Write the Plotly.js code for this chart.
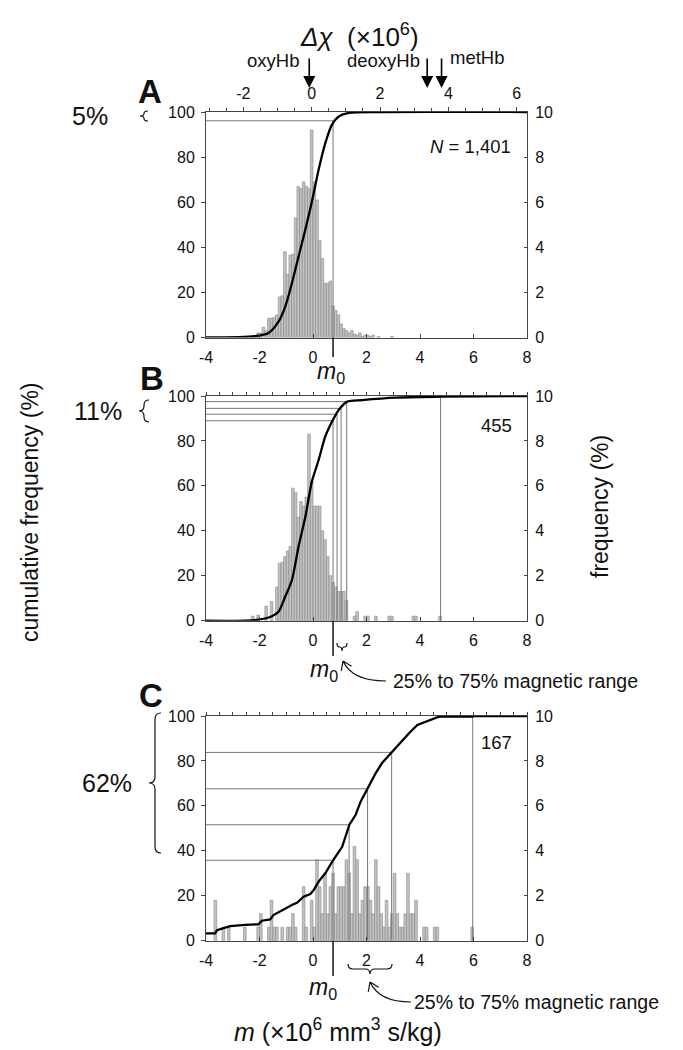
<!DOCTYPE html>
<html><head><meta charset="utf-8">
<script src="https://cdn.plot.ly/plotly-3.0.1.min.js"></script>
<style>html,body{margin:0;padding:0;background:#fff}#chart{width:683px;height:1050px}</style>
</head><body><div id="chart"></div>
<script>
// ---------------- data ----------------
const xTickVals = [-4, -2, 0, 2, 4, 6, 8];
const xTickText = ['-4', '-2', '0', '2', '4', '6', '8'];
const chiTickVals = [-2, 0, 2, 4, 6];
const chiTickText = ['-2', '0', '2', '4', '6'];
const cumTicks = [0, 20, 40, 60, 80, 100];
const freqTicks = [0, 2, 4, 6, 8, 10];

// Panel A (N = 1,401): histogram, bin width 0.1
const binA = [-2.25,-2.15,-2.05,-1.95,-1.85,-1.75,-1.65,-1.55,-1.45,-1.35,-1.25,-1.15,-1.05,-0.95,-0.85,-0.75,-0.65,-0.55,-0.45,-0.35,-0.25,-0.15,-0.05,0.05,0.15,0.25,0.35,0.45,0.55,0.65,0.75,0.85,0.95,1.05,1.15,1.25,1.35,1.45,1.55,1.65,1.75,1.85,1.95,2.05,2.15,2.25,2.45,2.95];
const freqA = [0.05,0.1,0.2,0.2,0.45,0.3,0.85,0.85,0.9,1.0,1.8,1.85,3.8,2.8,3.65,3.7,5.3,6.7,6.6,6.9,6.7,6.6,9.2,6.9,6.1,4.3,3.5,2.4,2.4,2.5,1.4,1.2,1.0,0.6,0.4,0.3,0.2,0.3,0.15,0.1,0.2,0.05,0.1,0.1,0.05,0.1,0.05,0.05];
const cumMA = [-4,-2.16,-1.66,-1.29,-1.04,-0.79,-0.54,-0.29,-0.04,0.21,0.46,0.71,0.96,1.34,2.46,8];
const cumA = [0,0.6,2,7,13.6,24,35.9,47.7,60.3,74.4,86.2,94.4,98,99.6,100,100];
const levelsA = [96.1];
const guideMA = [0.75];

// Panel B (455)
const binB = [-2.25,-2.05,-1.75,-1.55,-1.35,-1.25,-1.15,-1.05,-0.95,-0.85,-0.75,-0.65,-0.55,-0.45,-0.35,-0.25,-0.15,-0.05,0.05,0.15,0.25,0.35,0.45,0.55,0.65,0.75,0.85,0.95,1.05,1.15,1.25,1.55,1.65,1.95,2.05,2.35,2.85,2.95,3.75,3.85,4.75];
const freqB = [0.2,0.25,0.65,0.85,1.5,2.55,2.6,2.85,3.1,3.3,5.9,5.7,4.6,5.3,5.1,5.5,8.3,6.2,5.1,5.1,5.1,4.0,3.6,2.85,2.0,1.7,1.5,1.3,1.3,1.3,0.9,0.2,0.4,0.2,0.2,0.2,0.2,0.2,0.2,0.2,0.2];
const cumMB = [-4,-2.16,-1.54,-1.29,-1.04,-0.79,-0.54,-0.29,-0.04,0.21,0.46,0.71,0.96,1.28,1.84,3.09,4.8,8];
const cumB = [0,0.3,2,4,10.7,18,33,46,62,71.5,82,88.5,93.8,97.5,98.2,99.3,99.7,100];
const levelsB = [89.0, 91.9, 94.5, 97.5];
const guideMB = [0.75, 0.9, 1.05, 1.26];
const maxMB = 4.77;

// Panel C (167)
const binC = [-3.65,-3.35,-3.15,-2.55,-2.05,-1.95,-1.65,-1.55,-1.45,-1.35,-1.15,-0.95,-0.85,-0.75,-0.65,-0.35,-0.25,-0.05,0.05,0.15,0.25,0.35,0.45,0.55,0.65,0.75,0.85,0.95,1.05,1.15,1.25,1.35,1.45,1.55,1.65,1.75,1.85,1.95,2.05,2.15,2.25,2.35,2.45,2.55,2.65,2.75,2.85,2.95,3.05,3.15,3.25,3.35,3.45,3.55,3.65,3.75,3.85,4.15,4.25,4.55,4.65,5.95];
const freqC = [1.8,0.6,0.6,0.6,0.6,1.2,0.6,1.8,0.6,0.6,0.6,0.6,0.6,1.2,0.6,2.4,0.6,1.8,0.6,3.6,2.4,1.2,3.0,1.2,2.4,3.0,1.2,2.4,2.4,2.4,3.6,3.0,1.2,4.2,3.6,1.2,1.8,2.4,2.4,1.8,1.2,3.6,2.4,1.2,0.6,1.8,0.6,1.2,3.0,1.2,0.6,0.6,1.2,3.0,1.2,1.2,1.8,0.6,0.6,0.6,0.6,0.6];
const cumMC = [-4,-3.66,-3.59,-3.35,-3.1,-2.54,-2.04,-1.91,-1.6,-1.48,-1.16,-0.79,-0.6,-0.35,-0.1,0.03,0.21,0.46,0.75,1.09,1.36,1.59,1.78,2.04,2.34,2.59,2.94,3.21,3.59,3.9,4.21,4.71,5.96,6.0,8];
const cumC = [3.3,3.3,4.7,5.5,6.5,7,7.3,8.9,9.5,11.4,13.6,15.9,16.9,19.6,20.8,22.6,26.3,30,35.8,41.8,51.6,55.9,61.9,67.6,74.5,79.2,83.8,87.8,92.3,96,97.5,99.7,99.7,100,100];
const levelsC = [35.8, 51.6, 67.6, 83.8];
const guideMC = [0.75, 1.35, 2.04, 2.94];
const maxMC = 5.97;

const m0 = 0.75;
const hbNames = ['oxyHb', 'deoxyHb', 'metHb'];
const hbChi = [-0.07, 3.38, 3.8];

// ---------------- helpers ----------------
const W = 683, H = 1050;
const X = px => px / W;
const Y = py => 1 - py / H;
const FONT = 'Liberation Sans, Arial, Helvetica, sans-serif';
const TXT = '#111';

function bars(x, y, xa, ya) {
  return {type:'bar', x:x, y:y, xaxis:xa, yaxis:ya, width:0.1,
    marker:{color:'#c2c2c2', line:{color:'#888', width:0.6}},
    hoverinfo:'skip', showlegend:false};
}
function curve(x, y, xa, ya, smooth) {
  return {type:'scatter', mode:'lines', x:x, y:y, xaxis:xa, yaxis:ya,
    line:{color:'#000', width:2.3, shape: smooth ? 'spline' : 'linear', smoothing:0.8},
    hoverinfo:'skip', showlegend:false};
}
function guides(ms, levels, xa, ya) {
  const out = [];
  ms.forEach((m, i) => {
    out.push({type:'scatter', mode:'lines', x:[-4, m, m], y:[levels[i], levels[i], 0],
      xaxis:xa, yaxis:ya, line:{color:'#777', width:1}, hoverinfo:'skip', showlegend:false});
  });
  return out;
}
function maxLine(m, xa, ya) {
  return {type:'scatter', mode:'lines', x:[m, m], y:[100, 0], xaxis:xa, yaxis:ya,
    line:{color:'#777', width:1}, hoverinfo:'skip', showlegend:false};
}
function dummy(xa, ya) {
  return {type:'scatter', mode:'markers', x:[null], y:[null], xaxis:xa, yaxis:ya,
    marker:{opacity:0}, hoverinfo:'skip', showlegend:false};
}

const traces = [
  bars(binA, freqA, 'x', 'y'),
  ...guides(guideMA, levelsA, 'x', 'y2'),
  curve(cumMA, cumA, 'x', 'y2', true),
  dummy('x4', 'y'),
  bars(binB, freqB, 'x2', 'y3'),
  ...guides(guideMB, levelsB, 'x2', 'y4'),
  maxLine(maxMB, 'x2', 'y4'),
  curve(cumMB, cumB, 'x2', 'y4', true),
  dummy('x5', 'y3'),
  bars(binC, freqC, 'x3', 'y5'),
  ...guides(guideMC, levelsC, 'x3', 'y6'),
  maxLine(maxMC, 'x3', 'y6'),
  curve(cumMC, cumC, 'x3', 'y6', false),
  dummy('x6', 'y5')
];

const xDom = [X(206), X(527)];
const domA = [Y(337.5), Y(112)];
const domB = [Y(620.7), Y(396)];
const domC = [Y(940.7), Y(716)];
const LC = '#444';
const tf = {family:FONT, size:16, color:TXT};

function xBottom(anchor) {
  return {domain:xDom, anchor:anchor, range:[-4, 8], tickmode:'array', tickvals:xTickVals, ticktext:xTickText,
    ticks:'inside', ticklen:4, tickcolor:LC, showline:true, linecolor:LC, linewidth:1,
    showgrid:false, zeroline:false, tickfont:tf, ticklabelstandoff:5, fixedrange:true};
}
function xTop(overl, anchor) {
  return {overlaying:overl, anchor:anchor, side:'top', range:[-4, 8], tickmode:'linear', tick0:-4, dtick:0.5,
    ticks:'outside', ticklen:3, tickcolor:LC, showticklabels:false, showline:true, linecolor:LC, linewidth:1,
    showgrid:false, zeroline:false};
}
function yFreq(dom, anchor) {
  return {domain:dom, anchor:anchor, side:'right', range:[0, 10], tickmode:'array', tickvals:freqTicks,
    ticktext:freqTicks.map(String), ticks:'inside', ticklen:3, tickcolor:LC, showline:true, linecolor:LC,
    showgrid:false, zeroline:false, tickfont:tf, ticklabelstandoff:4};
}
function yCum(overl, anchor) {
  return {overlaying:overl, anchor:anchor, side:'left', range:[0, 100], tickmode:'array', tickvals:cumTicks,
    ticktext:cumTicks.map(String), ticks:'outside', ticklen:4, tickcolor:LC, showline:true, linecolor:LC,
    showgrid:false, zeroline:false, tickfont:tf, ticklabelstandoff:3};
}

// brace paths in pixel coords -> paper
function P(x, y) { return X(x).toFixed(5) + ',' + Y(y).toFixed(5); }
function vbrace(x, y0, y1, w) {
  const ym = (y0 + y1) / 2, q = Math.min(w, (y1 - y0) / 4);
  return 'M' + P(x + w, y0) + ' Q' + P(x, y0) + ' ' + P(x, y0 + q) + ' L' + P(x, ym - q) +
    ' Q' + P(x, ym) + ' ' + P(x - w, ym) + ' Q' + P(x, ym) + ' ' + P(x, ym + q) +
    ' L' + P(x, y1 - q) + ' Q' + P(x, y1) + ' ' + P(x + w, y1);
}
function hbrace(x0, x1, y, h) {
  const xm = (x0 + x1) / 2, q = Math.min(h, (x1 - x0) / 4);
  return 'M' + P(x0, y - h) + ' Q' + P(x0, y) + ' ' + P(x0 + q, y) + ' L' + P(xm - q, y) +
    ' Q' + P(xm, y) + ' ' + P(xm, y + h) + ' Q' + P(xm, y) + ' ' + P(xm + q, y) +
    ' L' + P(x1 - q, y) + ' Q' + P(x1, y) + ' ' + P(x1, y - h);
}
function curvedArrow(sx, sy, cx, cy, tx, ty) {
  let d = 'M' + P(sx, sy) + ' Q' + P(cx, cy) + ' ' + P(tx, ty);
  const dx = tx - cx, dy = ty - cy, L = Math.hypot(dx, dy);
  const ux = dx / L, uy = dy / L, len = 10, a = 0.6;
  [a, -a].forEach(ang => {
    const bx = -(ux * Math.cos(ang) - uy * Math.sin(ang));
    const by = -(ux * Math.sin(ang) + uy * Math.cos(ang));
    d += ' M' + P(tx, ty) + ' L' + P(tx + bx * len, ty + by * len);
  });
  return d;
}
const pathShape = (d, w) => ({type:'path', xref:'paper', yref:'paper', path:d, line:{color:'#111', width:w || 1.2}});

const shapes = [
  {type:'line', xref:'x', yref:'paper', x0:m0, x1:m0, y0:Y(337.5), y1:Y(357), line:{color:'#111', width:1.5}},
  {type:'line', xref:'x2', yref:'paper', x0:m0, x1:m0, y0:Y(620.7), y1:Y(656), line:{color:'#111', width:1.5}},
  {type:'line', xref:'x3', yref:'paper', x0:m0, x1:m0, y0:Y(940.7), y1:Y(976), line:{color:'#111', width:1.5}},
  pathShape(vbrace(144, 111, 121, 4)),
  pathShape(vbrace(144, 400, 422, 5)),
  pathShape(vbrace(155, 713, 853, 6)),
  pathShape(hbrace(337, 347, 647, 4)),
  pathShape(hbrace(348, 392, 969, 5)),
  pathShape(curvedArrow(386, 681, 352, 681, 343, 661)),
  pathShape(curvedArrow(411, 1002, 379, 1002, 370, 982))
];

function ann(text, px, py, size, opts) {
  return Object.assign({text:text, xref:'paper', yref:'paper', x:X(px), y:Y(py), showarrow:false,
    xanchor:'center', yanchor:'middle', font:{family:FONT, size:size, color:TXT}}, opts || {});
}
const annotations = [
  ann('<b>A</b>', 150, 92, 33),
  ann('<b>B</b>', 152, 378, 33),
  ann('<b>C</b>', 151, 695, 33),
  ann('5%', 90, 116, 25),
  ann('11%', 98, 411, 25),
  ann('62%', 107, 783, 25),
  ann('cumulative frequency (%)', 30, 512, 23, {textangle:-90}),
  ann('frequency (%)', 600, 507, 23, {textangle:-90}),
  ann('<i>Δχ</i>  (×10<sup>6</sup>)', 359, 36, 26),
  ann('<i>N</i> = 1,401', 513, 146, 18.5, {xanchor:'right'}),
  ann('455', 514, 425, 18.5, {xanchor:'right'}),
  ann('167', 514, 742, 18.5, {xanchor:'right'}),
  ann('<i>m</i><sub>0</sub>', 331, 372, 23),
  ann('<i>m</i><sub>0</sub>', 324, 670, 23),
  ann('<i>m</i><sub>0</sub>', 323, 988, 23),
  ann('25% to 75% magnetic range', 391, 681, 19.5, {xanchor:'left'}),
  ann('25% to 75% magnetic range', 412, 1002, 19.5, {xanchor:'left'}),
  ann('<i>m</i> (×10<sup>6</sup> mm<sup>3</sup> s/kg)', 338, 1030, 25),
  ann(hbNames[0], 301, 61, 18.5, {xanchor:'right'}),
  ann(hbNames[1], 422, 60, 18.5, {xanchor:'right'}),
  ann(hbNames[2], 448, 58, 18.5, {xanchor:'left'})
];
hbChi.forEach(c => {
  annotations.push({text:'', xref:'x4', yref:'paper', x:c, y:Y(88), ax:0, ay:-31, axref:'pixel', ayref:'pixel',
    showarrow:true, arrowhead:2, arrowsize:1.5, arrowwidth:1.6, arrowcolor:'#000', standoff:0});
});

const layout = {
  width:W, height:H, margin:{l:0, r:0, t:0, b:0}, paper_bgcolor:'#fff', plot_bgcolor:'rgba(0,0,0,0)',
  showlegend:false, bargap:0, barmode:'overlay', font:{family:FONT, color:TXT},
  xaxis: xBottom('y'),
  xaxis2: xBottom('y3'),
  xaxis3: xBottom('y5'),
  xaxis4: {overlaying:'x', anchor:'y', side:'top', range:[-3.09, 6.30], tickmode:'array', tickvals:chiTickVals,
    ticktext:chiTickText, ticks:'outside', ticklen:4, tickcolor:LC, showline:true, linecolor:LC,
    minor:{tickmode:'linear', tick0:0, dtick:0.5, ticks:'outside', ticklen:3, tickcolor:LC},
    showgrid:false, zeroline:false, tickfont:tf, ticklabelstandoff:2},
  xaxis5: xTop('x2', 'y3'),
  xaxis6: xTop('x3', 'y5'),
  yaxis: yFreq(domA, 'x'),
  yaxis2: yCum('y', 'x'),
  yaxis3: yFreq(domB, 'x2'),
  yaxis4: yCum('y3', 'x2'),
  yaxis5: yFreq(domC, 'x3'),
  yaxis6: yCum('y5', 'x3'),
  shapes: shapes,
  annotations: annotations
};

Plotly.newPlot('chart', traces, layout, {staticPlot:true, displayModeBar:false});
</script></body></html>
